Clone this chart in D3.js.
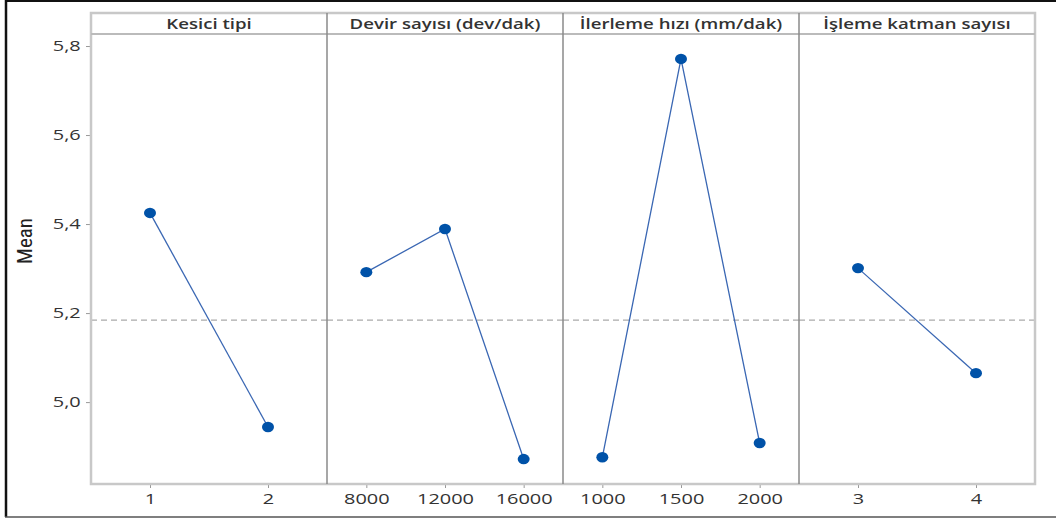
<!DOCTYPE html>
<html><head><meta charset="utf-8">
<script src="https://cdn.jsdelivr.net/npm/d3@7"></script>
<style>body{margin:0;background:#fff}svg{display:block}</style>
</head><body>
<svg id="c" width="1056" height="519"></svg>
<script>
const panelTitles = ["Kesici tipi", "Devir sayısı (dev/dak)", "İlerleme hızı (mm/dak)", "İşleme katman sayısı"];
const levels1 = ["1", "2"];
const means1 = [5.425, 4.944];
const levels2 = ["8000", "12000", "16000"];
const means2 = [5.292, 5.389, 4.872];
const levels3 = ["1000", "1500", "2000"];
const means3 = [4.876, 5.771, 4.908];
const levels4 = ["3", "4"];
const means4 = [5.301, 5.065];
const grandMean = 5.184;
const yTicks = [5.0, 5.2, 5.4, 5.6, 5.8];
const yLabel = "Mean";

const panels = [
  {title: panelTitles[0], levels: levels1, means: means1},
  {title: panelTitles[1], levels: levels2, means: means2},
  {title: panelTitles[2], levels: levels3, means: means3},
  {title: panelTitles[3], levels: levels4, means: means4}
];

const svg = d3.select("#c");
const L = 91, R = 1035, T = 13, HB = 34, B = 484;
const pw = (R - L) / panels.length;
const y = d3.scaleLinear().domain([4.816, 5.827]).range([B, HB]);
const font = "'Open Sans', 'Noto Sans', sans-serif";
const SX = 1.33;

// outer frame
svg.append("line").attr("x1",6).attr("x2",1056).attr("y1",1).attr("y2",1).attr("stroke","#111").attr("stroke-width",2);
svg.append("line").attr("x1",6).attr("x2",6).attr("y1",0).attr("y2",517).attr("stroke","#111").attr("stroke-width",2.5);
svg.append("line").attr("x1",5).attr("x2",1056).attr("y1",517).attr("y2",517).attr("stroke","#555").attr("stroke-width",1.5);

// y axis
const yAxis = d3.axisLeft(y).tickValues(yTicks).tickSize(4).tickPadding(3)
  .tickFormat(d => d3.format(".1f")(d).replace(".", ","));
const ga = svg.append("g").attr("transform", `translate(${L-1},0)`).call(yAxis);
ga.select(".domain").remove();
ga.selectAll(".tick line").attr("stroke","#999");
ga.selectAll(".tick text").attr("font-family",font).attr("font-size",15).attr("fill","#333")
  .attr("transform",`scale(${SX},1)`);

svg.append("text").attr("transform","translate(32,241) rotate(-90)")
  .attr("text-anchor","middle").attr("font-family","'Liberation Sans Narrow','Roboto Condensed',Roboto,sans-serif")
  .attr("font-size",21).attr("fill","#222").text(yLabel);

panels.forEach((p, i) => {
  const x0 = L + i * pw;
  const x = d3.scalePoint().domain(p.levels).range([x0, x0 + pw]).padding(0.5);
  const g = svg.append("g");
  // mean line
  g.append("line").attr("x1", x0).attr("x2", x0 + pw).attr("y1", y(grandMean)).attr("y2", y(grandMean))
    .attr("stroke","#aaa").attr("stroke-width",1.2).attr("stroke-dasharray","6,4");
  // x axis
  const xa = d3.axisBottom(x).tickSize(4).tickPadding(5);
  const gx = g.append("g").attr("transform", `translate(0,${B})`).call(xa);
  gx.select(".domain").remove();
  gx.selectAll(".tick line").attr("stroke","#999");
  gx.selectAll(".tick text").attr("font-family",font).attr("font-size",15).attr("fill","#333")
    .attr("transform",`scale(${SX},1)`);
  // line
  const line = d3.line().x((d, j) => x(p.levels[j])).y(d => y(d));
  g.append("path").attr("d", line(p.means)).attr("fill","none").attr("stroke","#3a67b3").attr("stroke-width",1.3);
  g.selectAll("ellipse").data(p.means).join("ellipse")
    .attr("cx", (d, j) => x(p.levels[j])).attr("cy", d => y(d)).attr("rx", 6).attr("ry", 5.2).attr("fill","#0052a8");
  // header
  g.append("text").attr("transform", `translate(${x0 + pw / 2},29) scale(${SX},1)`).attr("text-anchor","middle")
    .attr("font-family",font).attr("font-size",14).attr("font-weight",600).attr("fill","#333").text(p.title);
});

// borders
svg.append("rect").attr("x",L).attr("y",T).attr("width",R-L).attr("height",B-T)
  .attr("fill","none").attr("stroke","#c8c8c8").attr("stroke-width",2.5);
svg.append("line").attr("x1",L).attr("x2",R).attr("y1",HB).attr("y2",HB).attr("stroke","#bbb").attr("stroke-width",2);
for (let i = 1; i < panels.length; i++) {
  svg.append("line").attr("x1",L+i*pw).attr("x2",L+i*pw).attr("y1",T).attr("y2",B)
    .attr("stroke","#8a8a8a").attr("stroke-width",1.5);
}
</script>
</body></html>
